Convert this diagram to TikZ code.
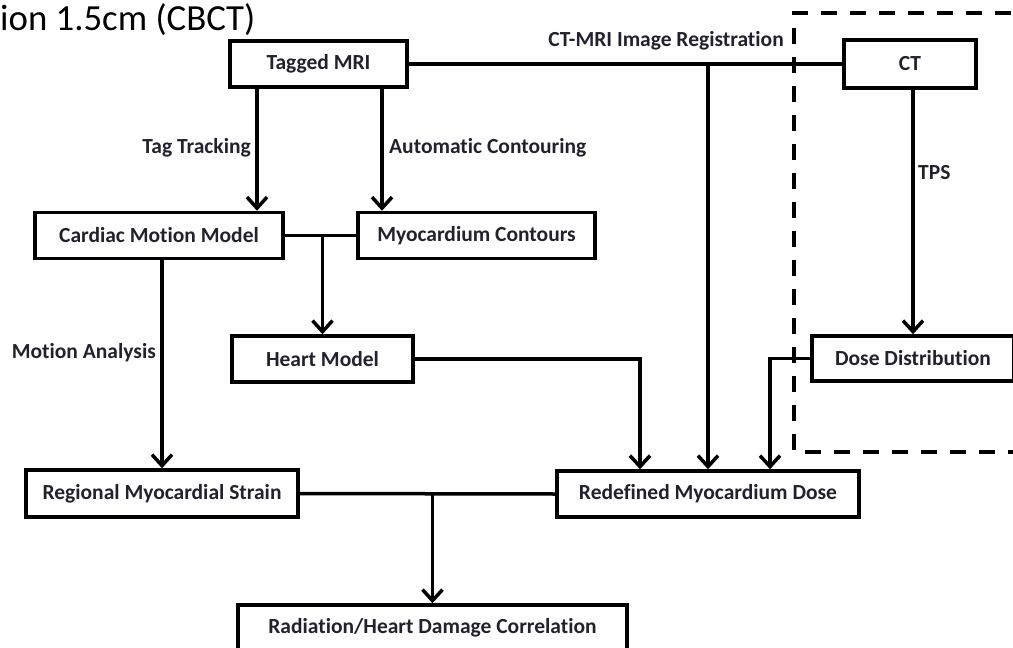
\documentclass[tikz,border=0pt]{standalone}
\usepackage{fontspec}
\setmainfont{Carlito}[Ligatures=NoCommon]
\usetikzlibrary{arrows.meta}
\definecolor{txt}{RGB}{34,34,46}
\begin{document}
\begin{tikzpicture}[x=1pt,y=-1pt,
  box/.style={draw=black,line width=3.5pt,fill=white,rectangle,inner sep=0pt,
    font=\fontsize{21.5}{24}\selectfont\bfseries,text=txt},
  lbl/.style={font=\fontsize{21.5}{24}\selectfont\bfseries,text=txt,inner sep=0pt},
  conn/.style={line width=3.5pt,draw=black},
  arr/.style={conn,-{Straight Barb[length=11pt,width=20pt,line width=3.5pt]}},
  dashbox/.style={line width=4pt,dash pattern=on 16pt off 13pt}]
\useasboundingbox (0,0) rectangle (1013,648);
\clip (0,0) rectangle (1013,648);
% title fragment
\node[anchor=base west,inner sep=0pt,font=\fontsize{36.8}{42}\selectfont] (title) at (0,30) {ion 1.5cm (CBCT)};
% dashed region
\draw[dashbox] (1040,13) -- (794,13) -- (794,452) -- (1040,452);
% boxes
\node[box,minimum width=177pt,minimum height=46pt] (tmri) at (318.5,64) {Tagged MRI};
\node[box,minimum width=132pt,minimum height=48pt] (ct) at (910,64) {CT};
\node[box,minimum width=248pt,minimum height=46pt] (cmm) at (159,235.5) {Cardiac Motion Model};
\node[box,minimum width=237pt,minimum height=46pt] (myo) at (476.5,235.5) {Myocardium Contours};
\node[box,minimum width=181pt,minimum height=46pt] (heart) at (322.5,359) {Heart Model};
\node[box,minimum width=202pt,minimum height=45pt] (dose) at (913,358.5) {Dose Distribution};
\node[box,minimum width=272pt,minimum height=47pt] (strain) at (162,493.5) {Regional Myocardial Strain};
\node[box,minimum width=302pt,minimum height=46pt] (redef) at (708,494) {Redefined Myocardium Dose};
\node[box,minimum width=389pt,minimum height=46pt] (rad) at (432.5,628) {Radiation/Heart Damage Correlation};
% connectors
\draw[conn] (tmri.east) -- (ct.west);
\draw[arr] (redef.north |- tmri.east) -- (redef.north);
\path ([xshift=-61.5pt]tmri.south) coordinate (tt);
\draw[arr] (tt) -- (tt |- cmm.north);
\path ([xshift=63.5pt]tmri.south) coordinate (ac);
\draw[arr] (ac) -- (ac |- myo.north);
\draw[conn] (cmm.east) -- (myo.west);
\draw[arr] (heart.north |- cmm.east) -- (heart.north);
\draw[arr] (strain.north |- cmm.south) -- (strain.north);
\draw[arr] (dose.north |- ct.south) -- (dose.north);
\path ([xshift=-68pt]redef.north) coordinate (hm);
\draw[arr] (heart.east) -| (hm);
\path ([xshift=62pt]redef.north) coordinate (dd);
\draw[arr] (dose.west) -| (dd);
\draw[conn] (strain.east) -- (redef.west);
\draw[arr] (rad.north |- strain.east) -- (rad.north);
% labels
\node[lbl,anchor=east] (lreg) at (784,41) {CT-MRI Image Registration};
\node[lbl,anchor=east] (ltag) at (251,148) {Tag Tracking};
\node[lbl,anchor=west] (lauto) at (389,148) {Automatic Contouring};
\node[lbl,anchor=west] (ltps) at (918,173) {TPS};
\node[lbl,anchor=east] (lmot) at (156,353) {Motion Analysis};
\end{tikzpicture}
\end{document}
